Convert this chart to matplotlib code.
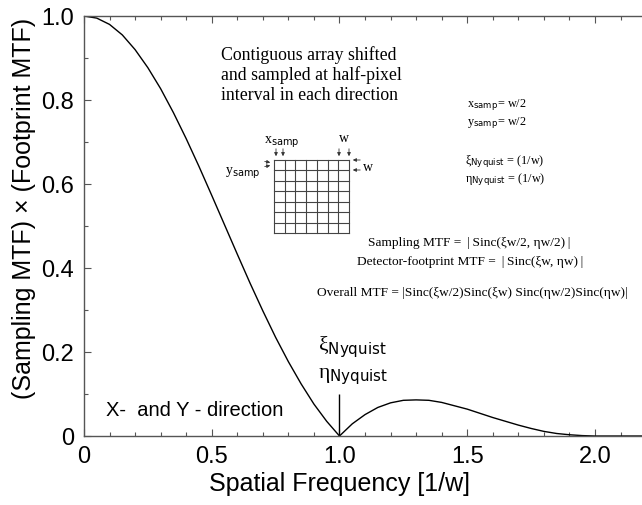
import numpy as np
import matplotlib
matplotlib.use("Agg")
import matplotlib.pyplot as plt
from matplotlib.ticker import MultipleLocator

plt.rcParams['mathtext.fontset'] = 'custom'
plt.rcParams['mathtext.rm'] = 'Liberation Serif'
plt.rcParams['mathtext.it'] = 'Liberation Serif:italic'
plt.rcParams['mathtext.sf'] = 'DejaVu Sans'

# Data (overall MTF along one direction)
freq = [0.00, 0.05, 0.10, 0.15, 0.20, 0.25, 0.30, 0.35, 0.40, 0.45,
        0.50, 0.55, 0.60, 0.65, 0.70, 0.75, 0.80, 0.85, 0.90, 0.95,
        1.00, 1.05, 1.10, 1.15, 1.20, 1.25, 1.30, 1.35, 1.40, 1.45,
        1.50, 1.55, 1.60, 1.65, 1.70, 1.75, 1.80, 1.85, 1.90, 1.95,
        2.00, 2.05, 2.10, 2.15, 2.20]
mtf = [1.000, 0.995, 0.980, 0.955, 0.920, 0.877, 0.827, 0.770, 0.708, 0.642,
       0.573, 0.503, 0.433, 0.364, 0.298, 0.235, 0.177, 0.124, 0.076, 0.035,
       0.000, 0.029, 0.051, 0.068, 0.079, 0.085, 0.086, 0.085, 0.080, 0.072,
       0.064, 0.054, 0.044, 0.035, 0.026, 0.018, 0.011, 0.006, 0.003, 0.001,
       0.000, 0.000, 0.000, 0.000, 0.000]
nyquist_freq = 1.0
nyquist_marker_height = 0.10

x_ticks = [0, 0.5, 1.0, 1.5, 2.0]
x_tick_labels = ["0", "0.5", "1.0", "1.5", "2.0"]
y_ticks = [0, 0.2, 0.4, 0.6, 0.8, 1.0]
y_tick_labels = ["0", "0.2", "0.4", "0.6", "0.8", "1.0"]

fig = plt.figure(figsize=(6.42, 5.05), dpi=100)
ax = fig.add_axes([0.1308, 0.1366, 0.8692, 0.8317])

ax.plot(freq, mtf, color='black', lw=1.0)
ax.vlines(nyquist_freq, 0, nyquist_marker_height, color='black', lw=1.0)

ax.set_xlim(0, 2.184)
ax.set_ylim(0, 1.0)
ax.set_xticks(x_ticks)
ax.set_xticklabels(x_tick_labels)
ax.set_yticks(y_ticks)
ax.set_yticklabels(y_tick_labels)
ax.xaxis.set_minor_locator(MultipleLocator(0.1))
ax.yaxis.set_minor_locator(MultipleLocator(0.1))
ax.tick_params(which='both', direction='in', top=True, right=False, color='#555555')
ax.tick_params(which='major', length=5, width=0.8, pad=7)
ax.tick_params(which='minor', length=3, width=0.8)
for lab in ax.get_xticklabels() + ax.get_yticklabels():
    lab.set_fontfamily('Liberation Sans')
    lab.set_fontsize(17)
ax.spines['right'].set_visible(False)
for s in ['left', 'bottom', 'top']:
    ax.spines[s].set_color('#555555')
    ax.spines[s].set_linewidth(1.0)

def ftxt(x, y, s, **kw):
    return fig.text(x / 642, 1 - y / 505, s, **kw)

# Axis titles
ftxt(340, 484, 'Spatial Frequency [1/w]', family='Liberation Sans', fontsize=18,
     ha='center', va='center')
ftxt(24, 208, '(Sampling MTF) \u00d7 (Footprint MTF)', family='Liberation Sans', fontsize=18,
     ha='center', va='center', rotation=90)

serif = 'Liberation Serif'
# Description block
for i, line in enumerate(['Contiguous array shifted', 'and sampled at half-pixel',
                          'interval in each direction']):
    ftxt(221, 55 + 20 * i, line, family=serif, fontsize=12.8, va='center', ha='left')

# Right-hand parameter text
ps = 8.8
ftxt(467, 105, r'x$_{\mathsf{samp}}$= w/2', family=serif, fontsize=ps, va='center', ha='left')
ftxt(467, 123, r'y$_{\mathsf{samp}}$= w/2', family=serif, fontsize=ps, va='center', ha='left')
ftxt(465, 162, '\u03be' + r'$_{\mathsf{Nyquist}}$ = (1/w)', family=serif, fontsize=ps, va='center', ha='left')
ftxt(465, 180, '\u03b7' + r'$_{\mathsf{Nyquist}}$ = (1/w)', family=serif, fontsize=ps, va='center', ha='left')

# Equations
es = 9.6
ftxt(469, 243, 'Sampling MTF = \u2009|\u2009Sinc(\u03bew/2, \u03b7w/2)\u2009|', family=serif, fontsize=es, va='center', ha='center')
ftxt(470, 262, 'Detector-footprint MTF = \u2009|\u2009Sinc(\u03bew, \u03b7w)\u2009|', family=serif, fontsize=es, va='center', ha='center')
ftxt(472, 293, 'Overall MTF = |Sinc(\u03bew/2)Sinc(\u03bew) Sinc(\u03b7w/2)Sinc(\u03b7w)|', family=serif, fontsize=es, va='center', ha='center')

# Nyquist labels
ftxt(318, 347, '\u03be' + r'$_{\mathsf{Nyquist}}$', family=serif, fontsize=15.5, va='center', ha='left')
ftxt(318, 377, '\u03b7' + r'$_{\mathsf{Nyquist}}$', family=serif, fontsize=15.5, va='center', ha='left')

# Direction label
ftxt(106, 410, 'X-  and Y - direction', family='Liberation Sans', fontsize=14.5, va='center', ha='left')

# Inset pixel-array diagram
n_cells = 7
gx0, gx1, gy0, gy1 = 274, 349, 160, 233
for i in range(n_cells + 1):
    xx = gx0 + (gx1 - gx0) * i / n_cells
    yy = gy0 + (gy1 - gy0) * i / n_cells
    fig.add_artist(plt.Line2D([xx / 642, xx / 642], [1 - gy0 / 505, 1 - gy1 / 505],
                              color='#444444', lw=0.8, transform=fig.transFigure))
    fig.add_artist(plt.Line2D([gx0 / 642, gx1 / 642], [1 - yy / 505, 1 - yy / 505],
                              color='#444444', lw=0.8, transform=fig.transFigure))

def farrow(x0, y0, x1, y1):
    fig.add_artist(matplotlib.patches.FancyArrowPatch(
        (x0 / 642, 1 - y0 / 505), (x1 / 642, 1 - y1 / 505), transform=fig.transFigure,
        arrowstyle='-|>', mutation_scale=5, lw=0.6, color='#333333'))

for ax_x in (276, 283):
    farrow(ax_x, 146, ax_x, 159)
for ax_x in (339, 349):
    farrow(ax_x, 146, ax_x, 159)
for ax_y in (160, 170):
    farrow(363, ax_y, 350, ax_y)
farrow(262, 161, 273, 163)
farrow(262, 167, 273, 165)

ftxt(282, 142, r'x$_{\mathsf{samp}}$', family=serif, fontsize=10, va='center', ha='center')
ftxt(344, 138, 'w', family=serif, fontsize=10, va='center', ha='center')
ftxt(368, 167, 'w', family=serif, fontsize=10, va='center', ha='center')
ftxt(243, 172, r'y$_{\mathsf{samp}}$', family=serif, fontsize=10, va='center', ha='center')

fig.savefig('out.png', dpi=100)
